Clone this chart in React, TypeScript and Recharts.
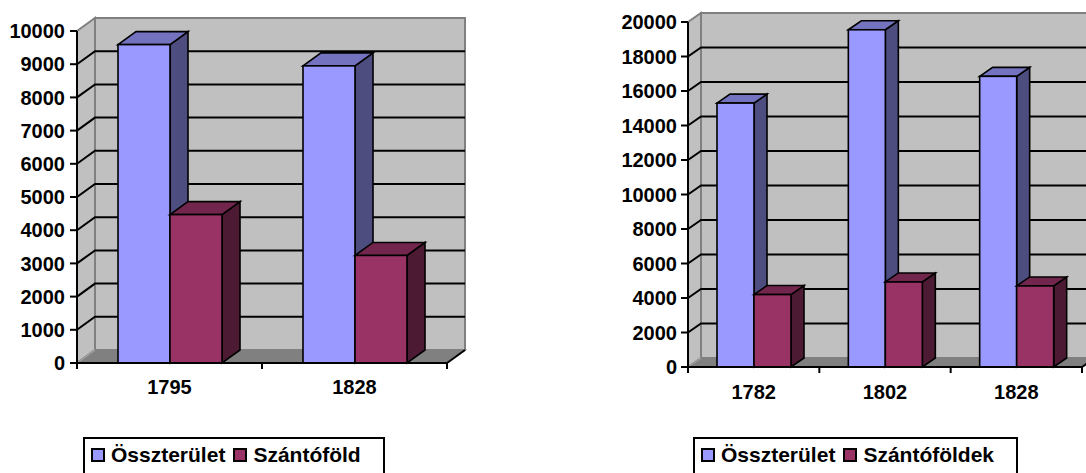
import React from 'react';
import { BarChart, Bar, XAxis, YAxis, CartesianGrid } from 'recharts';

const FONT = '"Liberation Sans", Arial, Helvetica, sans-serif';

// ---------- data ----------
const leftCategories = ['1795', '1828'];
const leftOsszterulet = [9590, 8950];
const leftSzantofold = [4470, 3240];
const leftTicks = [0, 1000, 2000, 3000, 4000, 5000, 6000, 7000, 8000, 9000, 10000];
const leftSeriesNames = ['Összterület', 'Szántóföld'];

const rightCategories = ['1782', '1802', '1828'];
const rightOsszterulet = [15300, 19550, 16850];
const rightSzantofoldek = [4200, 4930, 4700];
const rightTicks = [0, 2000, 4000, 6000, 8000, 10000, 12000, 14000, 16000, 18000, 20000];
const rightSeriesNames = ['Összterület', 'Szántóföldek'];

// ---------- styles ----------
const blueFaces = { front: '#9999FF', top: '#7373BF', side: '#4D4D80' };
const plumFaces = { front: '#993366', top: '#73264D', side: '#4D1A33' };
const WALL = '#C0C0C0';
const WALL_EDGE = '#808080';
const FLOOR = '#808080';

type Faces = { front: string; top: string; side: string };

const make3DBar = (faces: Faces, dx: number, dy: number) => (props: any) => {
  const { x, y, width, height } = props;
  if (width == null || height == null || !isFinite(x) || !isFinite(y)) return <g />;
  const x2 = x + width;
  const y2 = y + height;
  return (
    <g stroke="#000" strokeWidth={1.6} strokeLinejoin="miter">
      <polygon points={`${x2},${y} ${x2 + dx},${y + dy} ${x2 + dx},${y2 + dy} ${x2},${y2}`} fill={faces.side} />
      <polygon points={`${x},${y} ${x + dx},${y + dy} ${x2 + dx},${y + dy} ${x2},${y}`} fill={faces.top} />
      <rect x={x} y={y} width={width} height={height} fill={faces.front} />
    </g>
  );
};

type ChartCfg = {
  left: number;
  width: number;
  height: number;
  yAxisWidth: number;
  plotTop: number;
  plotBottom: number;
  plotWidth: number;
  dx: number;
  dy: number;
  barSize: number;
  categories: string[];
  s1: number[];
  s2: number[];
  ticks: number[];
  max: number;
  yTickSize: number;
  yTickMargin: number;
  labelBaseline: number;
};

const makeGridLine = (cfg: ChartCfg) => (props: any) => {
  const { x1, x2, y1, index } = props;
  if (Math.abs(y1 - cfg.plotTop) < 1 || Math.abs(y1 - cfg.plotBottom) < 1) {
    return <g key={`gl-${index}`} />;
  }
  const { dx, dy } = cfg;
  return (
    <g key={`gl-${index}`} stroke="#000" strokeWidth={2} fill="none">
      <polyline points={`${x1},${y1} ${x1 + dx},${y1 + dy} ${x2 + dx},${y1 + dy}`} />
    </g>
  );
};

const makeXTick = (cfg: ChartCfg) => (props: any) => {
  const { x, y, payload, index } = props;
  const band = cfg.plotWidth / cfg.categories.length;
  const lx = x - band / 2;
  const rx = x + band / 2;
  return (
    <g>
      <line x1={lx} y1={y} x2={lx} y2={y + 6} stroke="#000" strokeWidth={2} />
      {index === cfg.categories.length - 1 && (
        <line x1={rx} y1={y} x2={rx} y2={y + 6} stroke="#000" strokeWidth={2} />
      )}
      <text
        x={x}
        y={y + cfg.labelBaseline}
        textAnchor="middle"
        fill="#000"
        fontSize={20}
        fontWeight="bold"
        fontFamily={FONT}
      >
        {payload.value}
      </text>
    </g>
  );
};

function Walls({ cfg }: { cfg: ChartCfg }) {
  const L = cfg.left + cfg.yAxisWidth;
  const R = L + cfg.plotWidth;
  const T = cfg.plotTop;
  const B = cfg.plotBottom;
  const { dx, dy } = cfg;
  return (
    <g>
      {/* side wall */}
      <polygon
        points={`${L},${T} ${L + dx},${T + dy} ${L + dx},${B + dy} ${L},${B}`}
        fill={WALL}
        stroke={WALL_EDGE}
        strokeWidth={2}
      />
      {/* back wall */}
      <rect x={L + dx} y={T + dy} width={cfg.plotWidth} height={B - T} fill={WALL} stroke={WALL_EDGE} strokeWidth={2} />
      {/* floor */}
      <polygon
        points={`${L},${B} ${R},${B} ${R + dx},${B + dy} ${L + dx},${B + dy}`}
        fill={FLOOR}
        stroke={WALL_EDGE}
        strokeWidth={1.5}
      />
      <line x1={L} y1={B} x2={L + dx} y2={B + dy} stroke="#A0A0A0" strokeWidth={1.5} />
      <line x1={R} y1={B} x2={R + dx} y2={B + dy} stroke="#000" strokeWidth={2} />
    </g>
  );
}

function Chart3D({ cfg, names }: { cfg: ChartCfg; names: string[] }) {
  const data = cfg.categories.map((c, i) => ({ category: c, a: cfg.s1[i], b: cfg.s2[i] }));
  const xAxisHeight = 50;
  const margin = {
    top: cfg.plotTop,
    right: cfg.width - cfg.yAxisWidth - cfg.plotWidth,
    bottom: cfg.height - cfg.plotBottom - xAxisHeight,
    left: 0,
  };
  return (
    <div style={{ position: 'absolute', left: cfg.left, top: 0, width: cfg.width, height: cfg.height }}>
      <BarChart width={cfg.width} height={cfg.height} data={data} margin={margin} barGap={0}>
        <CartesianGrid vertical={false} horizontal={makeGridLine(cfg) as any} />
        <XAxis
          dataKey="category"
          type="category"
          interval={0}
          height={xAxisHeight}
          tickSize={0}
          tickMargin={0}
          tickLine={false}
          axisLine={{ stroke: '#000', strokeWidth: 2 }}
          tick={makeXTick(cfg) as any}
        />
        <YAxis
          type="number"
          domain={[0, cfg.max]}
          ticks={cfg.ticks}
          interval={0}
          width={cfg.yAxisWidth}
          tickSize={cfg.yTickSize}
          tickMargin={cfg.yTickMargin}
          axisLine={{ stroke: '#000', strokeWidth: 2 }}
          tickLine={{ stroke: '#000', strokeWidth: 2 }}
          tick={{ fill: '#000', fontSize: 20, fontWeight: 'bold', fontFamily: FONT }}
        />
        <Bar
          dataKey="a"
          name={names[0]}
          fill={blueFaces.front}
          barSize={cfg.barSize}
          isAnimationActive={false}
          shape={make3DBar(blueFaces, cfg.dx, cfg.dy) as any}
        />
        <Bar
          dataKey="b"
          name={names[1]}
          fill={plumFaces.front}
          barSize={cfg.barSize}
          isAnimationActive={false}
          shape={make3DBar(plumFaces, cfg.dx, cfg.dy) as any}
        />
      </BarChart>
    </div>
  );
}

function LegendBox({
  left,
  top,
  width,
  names,
  colors,
}: {
  left: number;
  top: number;
  width: number;
  names: string[];
  colors: string[];
}) {
  return (
    <div
      style={{
        position: 'absolute',
        left,
        top,
        width,
        height: 50,
        border: '2px solid #000',
        boxSizing: 'border-box',
        display: 'flex',
        alignItems: 'flex-start',
        paddingLeft: 6,
        paddingTop: 4,
        fontFamily: FONT,
        fontWeight: 'bold',
        fontSize: 21,
        lineHeight: '24px',
        color: '#000',
        background: '#fff',
      }}
    >
      {names.map((n, i) => (
        <div key={n} style={{ display: 'flex', alignItems: 'center', marginRight: 8, whiteSpace: 'nowrap' }}>
          <span
            style={{
              display: 'inline-block',
              width: 14,
              height: 14,
              border: '2px solid #000',
              boxSizing: 'border-box',
              background: colors[i],
              marginRight: 6,
            }}
          />
          <span>{n}</span>
        </div>
      ))}
    </div>
  );
}

const leftCfg: ChartCfg = {
  left: 0,
  width: 480,
  height: 420,
  yAxisWidth: 77,
  plotTop: 31,
  plotBottom: 363,
  plotWidth: 370,
  dx: 18,
  dy: -13,
  barSize: 52,
  categories: leftCategories,
  s1: leftOsszterulet,
  s2: leftSzantofold,
  ticks: leftTicks,
  max: 10000,
  yTickSize: 7,
  yTickMargin: 5,
  labelBaseline: 31,
};

const rightCfg: ChartCfg = {
  left: 600,
  width: 486,
  height: 420,
  yAxisWidth: 88,
  plotTop: 22,
  plotBottom: 367,
  plotWidth: 394,
  dx: 13,
  dy: -9,
  barSize: 37,
  categories: rightCategories,
  s1: rightOsszterulet,
  s2: rightSzantofoldek,
  ticks: rightTicks,
  max: 20000,
  yTickSize: 7,
  yTickMargin: 4,
  labelBaseline: 32,
};

export default function App() {
  return (
    <div
      style={{
        position: 'absolute',
        left: 0,
        top: 0,
        width: 1086,
        height: 473,
        overflow: 'hidden',
        background: '#fff',
      }}
    >
      <svg width={1086} height={473} style={{ position: 'absolute', left: 0, top: 0 }}>
        <Walls cfg={leftCfg} />
        <Walls cfg={rightCfg} />
      </svg>
      <Chart3D cfg={leftCfg} names={leftSeriesNames} />
      <Chart3D cfg={rightCfg} names={rightSeriesNames} />
      <LegendBox
        left={83}
        top={437}
        width={302}
        names={leftSeriesNames}
        colors={[blueFaces.front, plumFaces.front]}
      />
      <LegendBox
        left={693}
        top={437}
        width={325}
        names={rightSeriesNames}
        colors={[blueFaces.front, plumFaces.front]}
      />
    </div>
  );
}
